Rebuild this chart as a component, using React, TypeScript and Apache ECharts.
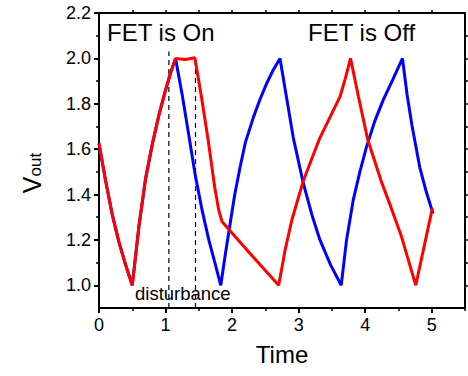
import React, { useEffect, useRef } from "react";
import * as echarts from "echarts";

// ---- data ----
const blueCurve: [number, number][] = [
  [0, 1.625], [0.1, 1.46], [0.2, 1.31], [0.3, 1.19], [0.4, 1.09], [0.5, 1.0],
  [0.6, 1.26], [0.7, 1.47], [0.8, 1.62], [0.9, 1.75], [1.0, 1.86], [1.08, 1.94], [1.15, 2.0],
  [1.25, 1.84], [1.35, 1.66], [1.45, 1.48], [1.55, 1.33], [1.65, 1.2], [1.75, 1.09], [1.83, 1.0],
  [1.9, 1.14], [1.97, 1.27], [2.04, 1.4], [2.12, 1.52], [2.2, 1.63], [2.32, 1.74], [2.42, 1.82],
  [2.52, 1.89], [2.62, 1.95], [2.72, 2.0],
  [2.8, 1.86], [2.92, 1.65], [3.07, 1.45], [3.2, 1.31], [3.32, 1.2], [3.48, 1.09], [3.64, 1.0],
  [3.72, 1.2], [3.82, 1.375], [3.92, 1.5], [4.02, 1.61], [4.14, 1.72], [4.27, 1.816],
  [4.42, 1.91], [4.56, 2.0],
  [4.63, 1.84], [4.7, 1.71], [4.82, 1.52], [4.92, 1.41], [5.02, 1.316],
];
const redCurve: [number, number][] = [
  [0, 1.625], [0.1, 1.46], [0.2, 1.31], [0.3, 1.19], [0.4, 1.09], [0.5, 1.0],
  [0.6, 1.26], [0.7, 1.47], [0.8, 1.62], [0.9, 1.75], [1.0, 1.86], [1.08, 1.94], [1.15, 2.0],
  [1.3, 1.995], [1.44, 2.003],
  [1.54, 1.83], [1.64, 1.64], [1.74, 1.43], [1.8, 1.33], [1.85, 1.28],
  [2.27, 1.14], [2.7, 1.0],
  [2.8, 1.16], [2.9, 1.29], [3.07, 1.46], [3.2, 1.56], [3.32, 1.65], [3.47, 1.74], [3.62, 1.83],
  [3.7, 1.91], [3.78, 2.0],
  [3.9, 1.83], [4.04, 1.64], [4.14, 1.55], [4.24, 1.46], [4.38, 1.35], [4.54, 1.22],
  [4.76, 1.0], [5.01, 1.34],
];
const dashOn: [number, number][] = [[1.05, 0.9], [1.05, 2.03]];
const dashOff: [number, number][] = [[1.45, 0.9], [1.45, 2.0]];

const xMajorTicks = [0, 1, 2, 3, 4, 5];
const xMinorTicks = [0.5, 1.5, 2.5, 3.5, 4.5, 5.5];
const yMajorTicks = [1.0, 1.2, 1.4, 1.6, 1.8, 2.0, 2.2];
const yMinorTicks = [1.1, 1.3, 1.5, 1.7, 1.9, 2.1];
const yAllTicks = [1.0, 1.1, 1.2, 1.3, 1.4, 1.5, 1.6, 1.7, 1.8, 1.9, 2.0, 2.1];
const xTopTicks = [0.5, 1, 1.5, 2, 2.5, 3, 3.5, 4, 4.5, 5];

const FONT = "'Liberation Sans', Arial, sans-serif";

export default function App() {
  const ref = useRef<HTMLDivElement>(null);
  useEffect(() => {
    if (!ref.current) return;
    const chart = echarts.init(ref.current, null, { renderer: "svg" });
    const line = { show: true, onZero: false, lineStyle: { color: "#000", width: 2 } };
    const noLine = { show: false, onZero: false };
    chart.setOption({
      animation: false,
      backgroundColor: "#fff",
      textStyle: { fontFamily: FONT },
      grid: { left: 99, right: 3, top: 13, bottom: 68 },
      xAxis: [
        {
          type: "value", position: "bottom", min: 0, max: 5.5,
          axisLine: line,
          axisTick: { show: true, customValues: xMajorTicks, length: 5, lineStyle: { color: "#000", width: 2 } },
          axisLabel: { customValues: xMajorTicks, color: "#000", fontSize: 18, margin: 8, fontFamily: FONT,
            formatter: (v: number) => String(Math.round(v)) },
          splitLine: { show: false },
          name: "Time", nameLocation: "middle", nameGap: 34,
          nameTextStyle: { color: "#000", fontSize: 24, fontFamily: FONT },
        },
        {
          type: "value", position: "bottom", min: 0, max: 5.5,
          axisLine: noLine,
          axisTick: { show: true, customValues: xMinorTicks, length: 3, lineStyle: { color: "#000", width: 1.5 } },
          axisLabel: { show: false },
          splitLine: { show: false },
        },
        {
          type: "value", position: "top", min: 0, max: 5.5,
          axisLine: line,
          axisTick: { show: true, customValues: xTopTicks, length: 3, lineStyle: { color: "#000", width: 1.5 } },
          axisLabel: { show: false },
          splitLine: { show: false },
        },
      ],
      yAxis: [
        {
          type: "value", position: "left", min: 0.9, max: 2.2,
          axisLine: line,
          axisTick: { show: true, customValues: yMajorTicks, length: 5, lineStyle: { color: "#000", width: 2 } },
          axisLabel: { customValues: yMajorTicks, color: "#000", fontSize: 18, margin: 8, fontFamily: FONT,
            formatter: (v: number) => v.toFixed(1) },
          splitLine: { show: false },
        },
        {
          type: "value", position: "left", min: 0.9, max: 2.2,
          axisLine: noLine,
          axisTick: { show: true, customValues: yMinorTicks, length: 3, lineStyle: { color: "#000", width: 1.5 } },
          axisLabel: { show: false },
          splitLine: { show: false },
        },
        {
          type: "value", position: "right", min: 0.9, max: 2.2,
          axisLine: line,
          axisTick: { show: true, customValues: yAllTicks, length: 3, lineStyle: { color: "#000", width: 1.5 } },
          axisLabel: { show: false },
          splitLine: { show: false },
        },
      ],
      series: [
        {
          type: "line", data: dashOn, xAxisIndex: 0, yAxisIndex: 0, showSymbol: false, silent: true,
          lineStyle: { color: "#000", width: 1.2, type: [5, 4] },
        },
        {
          type: "line", data: dashOff, xAxisIndex: 0, yAxisIndex: 0, showSymbol: false, silent: true,
          lineStyle: { color: "#000", width: 1.2, type: [5, 4] },
        },
        {
          type: "line", data: blueCurve, xAxisIndex: 0, yAxisIndex: 0, showSymbol: false,
          lineStyle: { color: "#0000ff", width: 3 },
        },
        {
          type: "line", data: redCurve, xAxisIndex: 0, yAxisIndex: 0, showSymbol: false,
          lineStyle: { color: "#ff0000", width: 3 },
        },
      ],
      graphic: [
        {
          type: "text", left: 107, top: 20,
          style: { text: "FET is On", fontSize: 24, fill: "#000", fontFamily: FONT },
        },
        {
          type: "text", left: 308, top: 20,
          style: { text: "FET is Off", fontSize: 24, fill: "#000", fontFamily: FONT },
        },
        {
          type: "text", left: 135, top: 284,
          style: { text: "disturbance", fontSize: 18.5, fill: "#000", fontFamily: FONT },
        },
        {
          type: "text", x: 30, y: 173, rotation: Math.PI / 2,
          style: {
            text: "{v|V}{s|out}", align: "center", verticalAlign: "middle", fill: "#000",
            fontFamily: FONT,
            rich: {
              v: { fontSize: 25, lineHeight: 28, fontFamily: FONT, fill: "#000", verticalAlign: "bottom" },
              s: { fontSize: 17, lineHeight: 14, fontFamily: FONT, fill: "#000", verticalAlign: "bottom" },
            },
          },
        },
      ],
    });
    return () => chart.dispose();
  }, []);
  return <div ref={ref} style={{ position: "fixed", left: 0, top: 0, width: 468, height: 376 }} />;
}
